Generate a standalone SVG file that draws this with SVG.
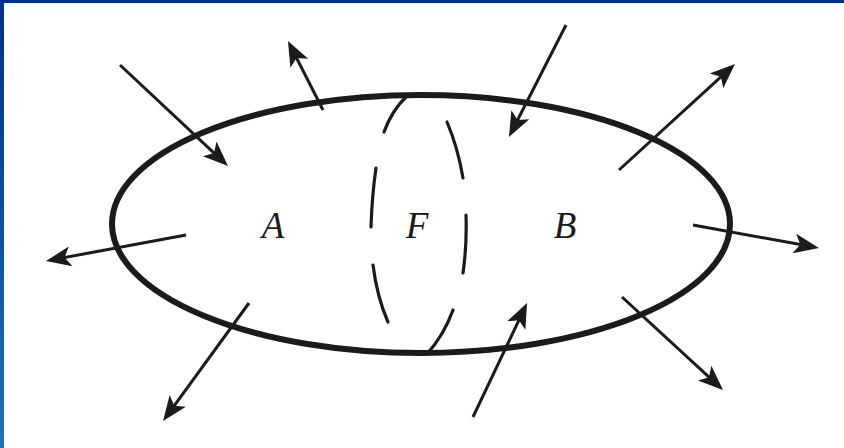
<svg xmlns="http://www.w3.org/2000/svg" width="844" height="448" viewBox="0 0 844 448">
<defs>
<linearGradient id="lb" x1="0" y1="0" x2="0" y2="1">
<stop offset="0" stop-color="#00308a"/>
<stop offset="1" stop-color="#1a74b2"/>
</linearGradient>
<marker id="ah" markerUnits="userSpaceOnUse" viewBox="-16 -12 30 24" refX="0" refY="0" markerWidth="30" markerHeight="24" orient="auto">
<path d="M12,0 L-13,-10 L-7,0 L-13,10 Z" fill="#1c1a1a"/>
</marker>
<style>
.arr{stroke:#1c1a1a;stroke-width:3;fill:none;marker-end:url(#ah)}
.dash{stroke:#1c1a1a;stroke-width:3.2;fill:none;stroke-linecap:round}
.lbl{font-family:"Liberation Serif",serif;font-style:italic;font-size:37px;fill:#1c1a1a;text-anchor:middle}
</style>
</defs>
<rect x="0" y="0" width="844" height="448" fill="#ffffff"/>
<rect x="0" y="0" width="844" height="3" fill="#00308a"/>
<rect x="0" y="0" width="4" height="448" fill="url(#lb)"/>
<g id="boundary">
<ellipse cx="421" cy="224" rx="309" ry="129" fill="none" stroke="#1c1a1a" stroke-width="6"/>
</g>
<g id="section-F">
<path class="dash" d="M407,96 Q392,110 384,132"/>
<path class="dash" d="M376,168 Q372,195 371,227"/>
<path class="dash" d="M373,265 Q377,297 388,322"/>
<path class="dash" d="M447,122 Q458,148 463,178"/>
<path class="dash" d="M466,215 Q467,245 463,273"/>
<path class="dash" d="M453,310 Q444,335 427,354"/>
</g>
<g id="connectors">
<line class="arr" x1="120" y1="65" x2="219.2" y2="157.8"/>
<line class="arr" x1="323" y1="110" x2="293.4" y2="51.7"/>
<line class="arr" x1="566" y1="25" x2="514.4" y2="126.3"/>
<line class="arr" x1="619" y1="170" x2="726.1" y2="72.1"/>
<line class="arr" x1="693" y1="225" x2="807.2" y2="245.8"/>
<line class="arr" x1="622" y1="297" x2="714.2" y2="381.9"/>
<line class="arr" x1="473" y1="417" x2="521.9" y2="313.8"/>
<line class="arr" x1="249" y1="303" x2="170.1" y2="411.3"/>
<line class="arr" x1="186" y1="235" x2="57.8" y2="258.8"/>
</g>
<g id="label-A"><text class="lbl" x="273" y="238">A</text></g>
<g id="label-F"><text class="lbl" x="417" y="238">F</text></g>
<g id="label-B"><text class="lbl" x="565" y="238">B</text></g>
</svg>
